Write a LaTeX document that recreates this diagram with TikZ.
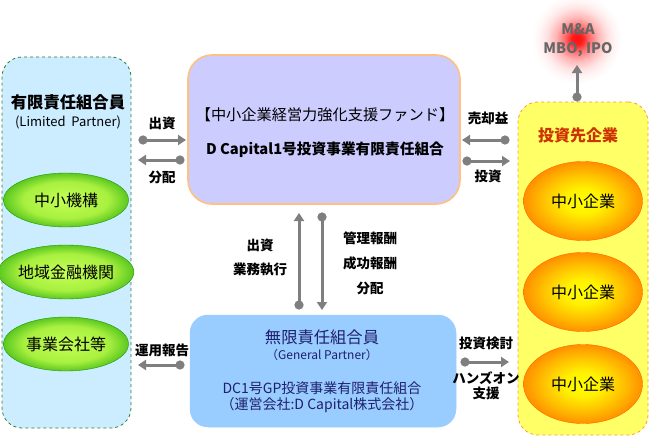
\documentclass[tikz,border=0pt]{standalone}
\usepackage{fontspec}
\setmainfont{Noto Sans CJK JP}
\usetikzlibrary{arrows.meta,shapes.geometric}
\definecolor{lpfill}{HTML}{CCECFF}
\definecolor{lpborder}{HTML}{2E7D32}
\definecolor{cfill}{HTML}{CCCCFF}
\definecolor{cborder}{HTML}{FFC080}
\definecolor{gpfill}{HTML}{99CCFF}
\definecolor{gptext}{HTML}{1F1F6F}
\definecolor{rfill}{HTML}{FFFF66}
\definecolor{rborder}{HTML}{FF9933}
\definecolor{rtitle}{HTML}{CC3300}
\definecolor{arrgray}{HTML}{7F7F7F}
\definecolor{txtgray}{HTML}{666666}
\definecolor{gin}{HTML}{C4FF55}
\definecolor{gmid}{HTML}{A8F040}
\definecolor{gmid2}{HTML}{5CC820}
\definecolor{gmid3}{HTML}{30A808}
\definecolor{gout}{HTML}{1E9A00}
\definecolor{oin}{HTML}{FFFF00}
\definecolor{omid}{HTML}{FFF000}
\definecolor{omid2}{HTML}{FFC000}
\definecolor{omid3}{HTML}{FF9000}
\definecolor{omid4}{HTML}{FF7000}
\definecolor{oout}{HTML}{FF6600}
\definecolor{glowred}{HTML}{FF1010}
\pgfdeclareradialshading{greenball}{\pgfpoint{0bp}{0bp}}{color(0bp)=(gin); color(17bp)=(gmid); color(25bp)=(gmid2); color(32bp)=(gmid3); color(35bp)=(gout); color(50bp)=(gout)}
\pgfdeclareradialshading{orangeball}{\pgfpoint{0bp}{0bp}}{color(0bp)=(oin); color(8bp)=(omid); color(17bp)=(omid2); color(25bp)=(omid3); color(32bp)=(omid4); color(35bp)=(oout); color(50bp)=(oout)}
\pgfdeclareradialshading{redglow}{\pgfpoint{0bp}{0bp}}{color(0bp)=(glowred); color(3bp)=(glowred!95!white); color(7bp)=(glowred!60!white); color(12bp)=(glowred!30!white); color(17bp)=(glowred!12!white); color(21bp)=(glowred!4!white); color(25bp)=(white); color(50bp)=(white)}
\tikzset{
  panel/.style={rectangle, rounded corners=20pt, inner sep=0pt},
  gball/.style={ellipse, shading=greenball, draw=gout, line width=0.4pt, minimum width=125pt, minimum height=54pt, inner sep=0pt, font=\fontsize{16}{18}\selectfont},
  oball/.style={ellipse, shading=orangeball, draw=oout, line width=0.4pt, minimum width=119pt, minimum height=79pt, inner sep=0pt, font=\fontsize{16}{18}\selectfont},
  lbl/.style={inner sep=0pt, font=\fontsize{13.5}{15}\selectfont\bfseries},
  arr/.style={draw=arrgray, line width=3pt, {Circle[length=9pt,width=9pt]}-{Triangle[length=8pt,width=10pt]}},
}
\begin{document}
\begin{tikzpicture}[x=1pt,y=-1pt]
\useasboundingbox (0,0) rectangle (650,436);
% panels
\node[panel, fill=lpfill, draw=lpborder, dashed, line width=0.8pt, minimum width=129pt, minimum height=371pt] (lp) at (66.5,242.5) {};
\node[panel, rounded corners=24pt, fill=cfill, draw=cborder, line width=1.6pt, minimum width=272pt, minimum height=149pt] (fund) at (324,129.5) {};
\node[panel, rounded corners=18pt, fill=gpfill, draw=gpfill, line width=0.5pt, minimum width=266pt, minimum height=112pt] (gp) at (323,371) {};
\node[panel, fill=rfill, draw=rborder, dashed, line width=0.8pt, minimum width=130pt, minimum height=333pt] (inv) at (583,268.5) {};
% left panel content
\node[inner sep=0pt, font=\fontsize{16.3}{18}\selectfont\bfseries] (lpt) at (68,102) {有限責任組合員};
\node[inner sep=0pt, font=\fontsize{13}{15}\selectfont] (lps) at (68,122) {(Limited\ \ Partner)};
\node[gball] (g1) at (66,200) {中小機構};
\node[gball] (g2) at (66,272) {地域金融機関};
\node[gball] (g3) at (66,344) {事業会社等};
% fund text
\node[inner sep=0pt, font=\fontsize{15.2}{17}\selectfont] (ft1) at (325,115) {【中小企業経営力強化支援ファンド】};
\node[inner sep=0pt, font=\fontsize{14.7}{16}\selectfont\bfseries] (ft2) at (325,150) {D Capital1号投資事業有限責任組合};
% gp text
\node[inner sep=0pt, text=gptext, font=\fontsize{16.3}{18}\selectfont] (gt1) at (322,337) {無限責任組合員};
\node[inner sep=0pt, text=gptext, font=\fontsize{12}{14}\selectfont] (gt2) at (322,355) {（General Partner）};
\node[inner sep=0pt, text=gptext, font=\fontsize{14}{16}\selectfont] (gt3) at (322,388) {DC1号GP投資事業有限責任組合};
\node[inner sep=0pt, text=gptext, font=\fontsize{14}{16}\selectfont] (gt4) at (322,405) {（運営会社:D Capital株式会社）};
% right panel content
\node[inner sep=0pt, text=rtitle, font=\fontsize{16}{18}\selectfont\bfseries] (rt) at (578,135) {投資先企業};
\node[oball] (o1) at (583,201) {中小企業};
\node[oball] (o2) at (583,292) {中小企業};
\node[oball] (o3) at (583,384) {中小企業};
% glow and exit
\node[circle, shading=redglow, minimum size=90pt, inner sep=0pt] (glow) at (577,39) {};
\node[inner sep=0pt, text=txtgray, font=\fontsize{14.5}{16}\selectfont\bfseries] (exit1) at (578,29) {M\&A};
\node[inner sep=0pt, text=txtgray, font=\fontsize{14.5}{16}\selectfont\bfseries] (exit2) at (578,50) {MBO, IPO};
% arrow end coordinates
\coordinate (a1s) at (138.5,140); \coordinate (a1e) at (186,140);
\coordinate (a2s) at (184.5,160); \coordinate (a2e) at (138,160);
\coordinate (a3s) at (184.5,365); \coordinate (a3e) at (138,365);
\coordinate (v1s) at (299,309.5); \coordinate (v1e) at (299,213);
\coordinate (v2s) at (322,212.5); \coordinate (v2e) at (322,310);
\coordinate (r1s) at (509.5,140); \coordinate (r1e) at (462,140);
\coordinate (r2s) at (462.5,161); \coordinate (r2e) at (510,161);
\coordinate (r3s) at (460.5,362); \coordinate (r3e) at (509,362);
\coordinate (ups) at (577,101.5); \coordinate (upe) at (577,65);
\draw[arr] (a1s) -- (a1e);
\draw[arr] (a2s) -- (a2e);
\draw[arr] (a3s) -- (a3e);
\draw[arr] (v1s) -- (v1e);
\draw[arr] (v2s) -- (v2e);
\draw[arr] (r1s) -- (r1e);
\draw[arr] (r2s) -- (r2e);
\draw[arr] (r3s) -- (r3e);
\draw[arr] (ups) -- (upe);
% labels
\node[lbl] (l1) at (162,123) {出資};
\node[lbl] (l2) at (162,177) {分配};
\node[lbl] (l3) at (162,350) {運用報告};
\node[lbl] (l4) at (260,245) {出資};
\node[lbl] (l5) at (260,270) {業務執行};
\node[lbl] (l6) at (370,238) {管理報酬};
\node[lbl] (l7) at (370,263) {成功報酬};
\node[lbl] (l8) at (370,288) {分配};
\node[lbl] (l9) at (488,118) {売却益};
\node[lbl] (l10) at (488,176) {投資};
\node[lbl] (l11) at (486,343) {投資検討};
\node[lbl] (l12) at (486,378) {ハンズオン};
\node[lbl] (l13) at (486,393) {支援};
\end{tikzpicture}
\end{document}
